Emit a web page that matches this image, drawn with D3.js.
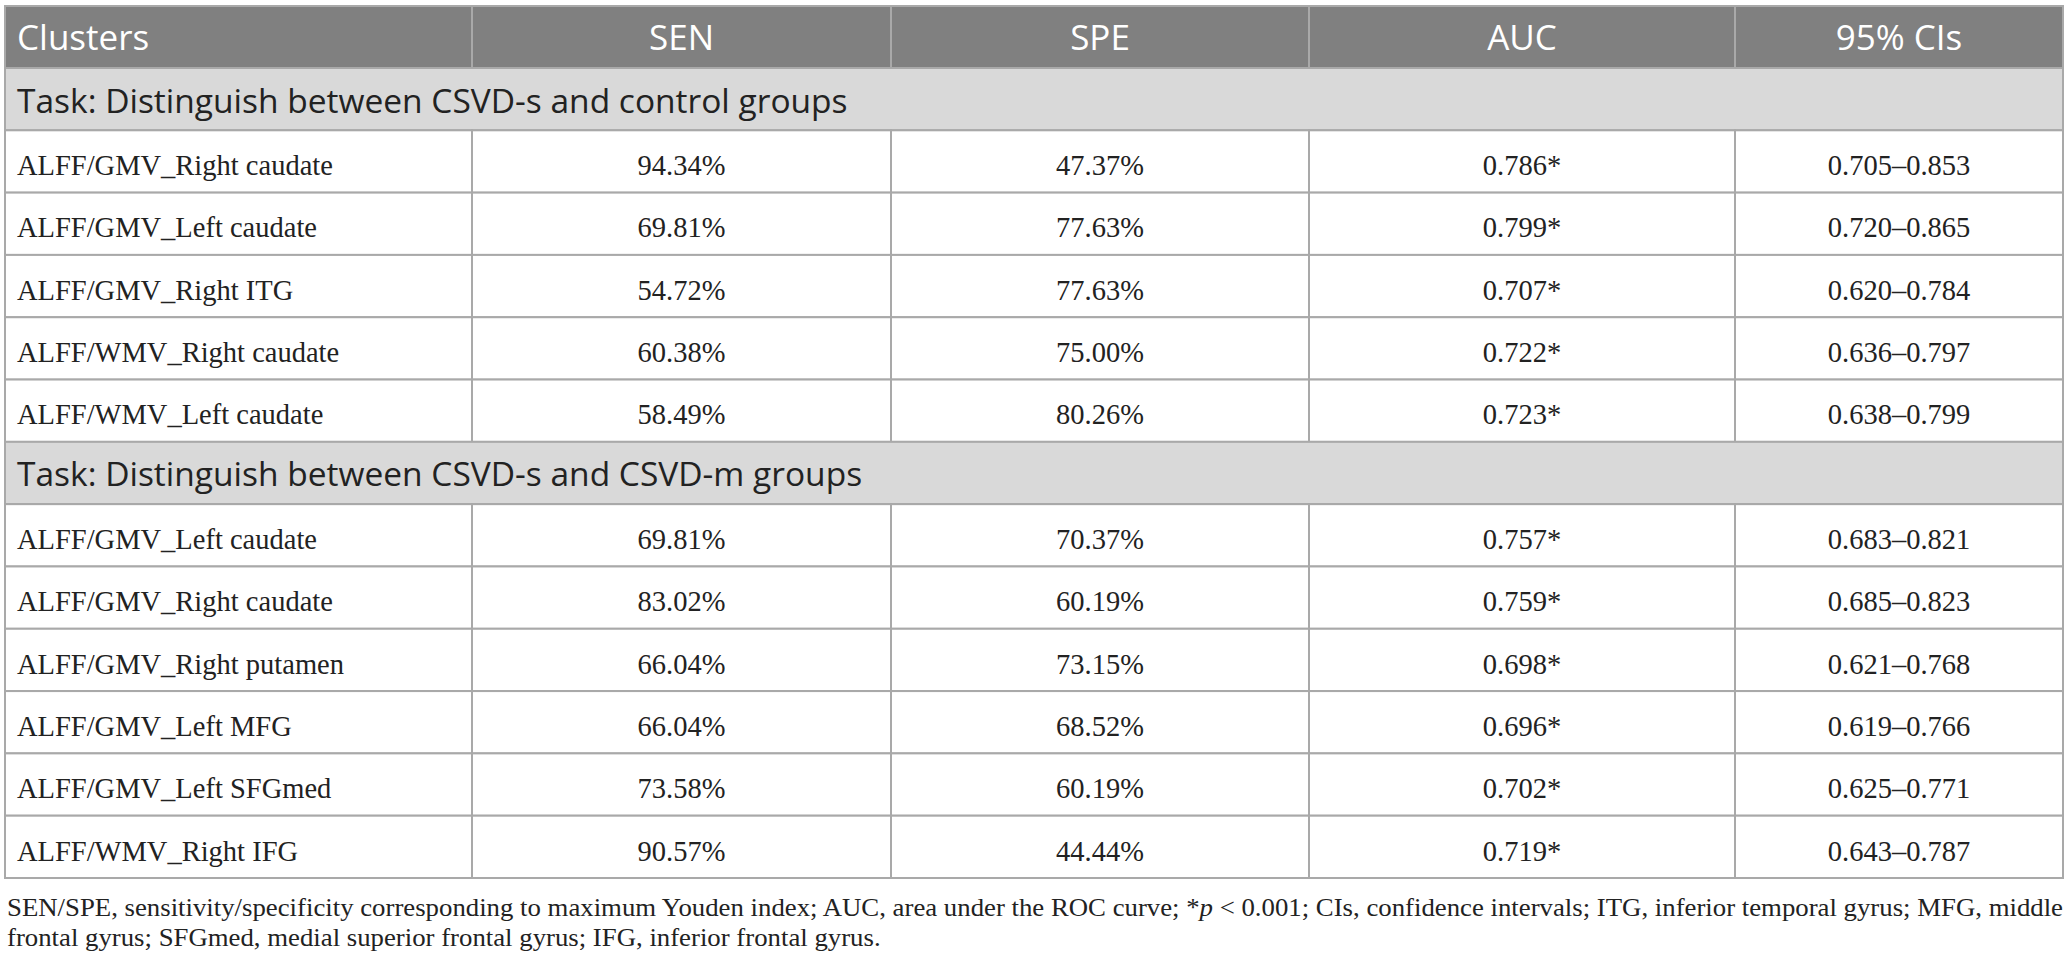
<!DOCTYPE html>
<html>
<head>
<meta charset="utf-8">
<script src="https://cdn.jsdelivr.net/npm/d3@7"></script>
<style>
  body { margin: 0; background: #fff; }
</style>
</head>
<body>
<svg id="chart"></svg>
<script>
'use strict';

const columns = ['Clusters', 'SEN', 'SPE', 'AUC', '95% CIs'];

const tasks = [
  'Task: Distinguish between CSVD-s and control groups',
  'Task: Distinguish between CSVD-s and CSVD-m groups'
];

// task 1: CSVD-s vs control
const clusters1 = ['ALFF/GMV_Right caudate', 'ALFF/GMV_Left caudate', 'ALFF/GMV_Right ITG',
  'ALFF/WMV_Right caudate', 'ALFF/WMV_Left caudate'];
const sen1 = ['94.34%', '69.81%', '54.72%', '60.38%', '58.49%'];
const spe1 = ['47.37%', '77.63%', '77.63%', '75.00%', '80.26%'];
const auc1 = ['0.786*', '0.799*', '0.707*', '0.722*', '0.723*'];
const ci1 = ['0.705–0.853', '0.720–0.865', '0.620–0.784', '0.636–0.797', '0.638–0.799'];

// task 2: CSVD-s vs CSVD-m
const clusters2 = ['ALFF/GMV_Left caudate', 'ALFF/GMV_Right caudate', 'ALFF/GMV_Right putamen',
  'ALFF/GMV_Left MFG', 'ALFF/GMV_Left SFGmed', 'ALFF/WMV_Right IFG'];
const sen2 = ['69.81%', '83.02%', '66.04%', '66.04%', '73.58%', '90.57%'];
const spe2 = ['70.37%', '60.19%', '73.15%', '68.52%', '60.19%', '44.44%'];
const auc2 = ['0.757*', '0.759*', '0.698*', '0.696*', '0.702*', '0.719*'];
const ci2 = ['0.683–0.821', '0.685–0.823', '0.621–0.768', '0.619–0.766', '0.625–0.771', '0.643–0.787'];

const footLines = [
  [['SEN/SPE, sensitivity/specificity corresponding to maximum Youden index; AUC, area under the ROC curve; *', false],
   ['p', true],
   [' < 0.001; CIs, confidence intervals; ITG, inferior temporal gyrus; MFG, middle', false]],
  [['frontal gyrus; SFGmed, medial superior frontal gyrus; IFG, inferior frontal gyrus.', false]]
];

const W = 2069, H = 969;
const colEdges = [5, 472, 891, 1309, 1735, 2063];
const headTop = 6, headBottom = 68, tableBottom = 878;
const padLeft = 12;
const footWidth = 2056; // width of the first footnote line
const border = '#a9a9a9';
const ink = '#222';
const sans = '"Open Sans", sans-serif';
const serif = '"Liberation Serif", "Times New Roman", serif';

const svg = d3.select('#chart').attr('width', W).attr('height', H);

const toRows = (cl, se, sp, au, ci) => cl.map((c, i) => ({ type: 'data', cells: [c, se[i], sp[i], au[i], ci[i]] }));

const rows = [
  { type: 'task', label: tasks[0] },
  ...toRows(clusters1, sen1, spe1, auc1, ci1),
  { type: 'task', label: tasks[1] },
  ...toRows(clusters2, sen2, spe2, auc2, ci2)
];

const x = d3.scaleOrdinal().domain(columns).range(colEdges.slice(0, -1));
const colW = c => colEdges[columns.indexOf(c) + 1] - x(c);
const y = d3.scaleBand().domain(d3.range(rows.length)).range([headBottom, tableBottom]);

// header
const head = svg.append('g');
head.selectAll('rect')
  .data(columns)
  .join('rect')
  .attr('x', d => x(d))
  .attr('y', headTop)
  .attr('width', d => colW(d))
  .attr('height', headBottom - headTop)
  .attr('fill', '#808080')
  .attr('stroke', border)
  .attr('stroke-width', 2);
head.selectAll('text')
  .data(columns)
  .join('text')
  .attr('x', (d, i) => i === 0 ? x(d) + padLeft : x(d) + colW(d) / 2)
  .attr('y', (headTop + headBottom) / 2)
  .attr('dy', '0.37em')
  .attr('text-anchor', (d, i) => i === 0 ? 'start' : 'middle')
  .attr('fill', '#fff')
  .style('font-family', sans)
  .style('font-size', '35px')
  .text(d => d);

// body rows
const rowG = svg.append('g')
  .selectAll('g')
  .data(rows)
  .join('g')
  .attr('transform', (d, i) => `translate(0,${y(i)})`);

rowG.filter(d => d.type === 'task')
  .call(g => g.append('rect')
    .attr('x', colEdges[0])
    .attr('width', colEdges[colEdges.length - 1] - colEdges[0])
    .attr('height', y.bandwidth())
    .attr('fill', '#d9d9d9')
    .attr('stroke', border)
    .attr('stroke-width', 2))
  .call(g => g.append('text')
    .attr('x', colEdges[0] + padLeft)
    .attr('y', y.bandwidth() / 2)
    .attr('dy', '0.4em')
    .attr('fill', ink)
    .style('font-family', sans)
    .style('font-size', '33.5px')
    .text(d => d.label));

const cells = rowG.filter(d => d.type === 'data')
  .selectAll('g')
  .data(d => d.cells.map((v, i) => ({ col: columns[i], v, i })))
  .join('g');

cells.append('rect')
  .attr('x', d => x(d.col))
  .attr('width', d => colW(d.col))
  .attr('height', y.bandwidth())
  .attr('fill', '#fff')
  .attr('stroke', border)
  .attr('stroke-width', 2);

cells.append('text')
  .attr('x', d => d.i === 0 ? x(d.col) + padLeft : x(d.col) + colW(d.col) / 2)
  .attr('y', y.bandwidth() / 2)
  .attr('dy', '0.48em')
  .attr('text-anchor', d => d.i === 0 ? 'start' : 'middle')
  .attr('fill', ink)
  .style('font-family', serif)
  .style('font-size', '28.5px')
  .text(d => d.v);

// footnote, squeezed so the first line spans the table like the reference
const foot = svg.append('g')
  .selectAll('text')
  .data(footLines)
  .join('text')
  .attr('x', 7)
  .attr('y', (d, i) => 916 + i * 30)
  .attr('fill', ink)
  .style('font-family', serif)
  .style('font-size', '26px');

foot.selectAll('tspan')
  .data(d => d)
  .join('tspan')
  .style('font-style', d => d[1] ? 'italic' : 'normal')
  .text(d => d[0]);

const natural = foot.nodes().map(n => n.getComputedTextLength());
const squeeze = footWidth / natural[0];
foot.attr('textLength', (d, i) => natural[i] * squeeze)
  .attr('lengthAdjust', 'spacingAndGlyphs');
</script>
</body>
</html>
